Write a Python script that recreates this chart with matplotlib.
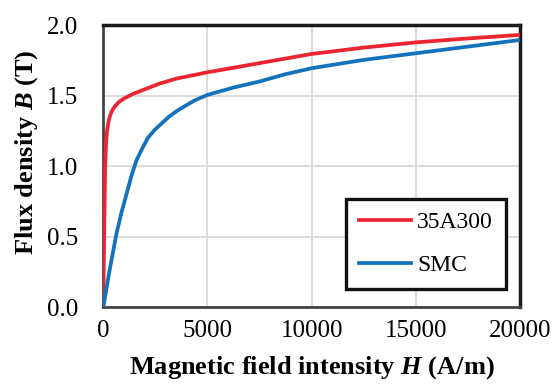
import matplotlib
matplotlib.use('Agg')
import matplotlib.pyplot as plt

plt.rcParams['font.family'] = 'Liberation Serif'
plt.rcParams['mathtext.fontset'] = 'custom'
plt.rcParams['mathtext.it'] = 'Liberation Serif:italic:bold'
plt.rcParams['mathtext.rm'] = 'Liberation Serif:bold'

# B-H curves
h_35a300 = [0, 40, 90, 130, 180, 250, 330, 430, 560, 750, 1000, 1400, 2000,
            2700, 3500, 5000, 7500, 10000, 12500, 15000, 17500, 20000]
b_35a300 = [0.0, 0.5, 1.0, 1.15, 1.25, 1.315, 1.36, 1.395, 1.425, 1.455,
            1.48, 1.51, 1.545, 1.585, 1.62, 1.665, 1.73, 1.795, 1.84, 1.877,
            1.905, 1.93]

h_smc = [0, 300, 630, 870, 1110, 1350, 1590, 1850, 2140, 2450, 2780, 3150,
         3570, 4370, 5000, 6200, 7500, 8700, 10000, 12500, 15000, 17500, 20000]
b_smc = [0.0, 0.26, 0.52, 0.67, 0.8, 0.93, 1.04, 1.12, 1.2, 1.255, 1.3,
         1.35, 1.395, 1.465, 1.505, 1.555, 1.60, 1.65, 1.694, 1.753, 1.80,
         1.847, 1.894]

x_ticks = [0, 5000, 10000, 15000, 20000]
y_ticks = [0.0, 0.5, 1.0, 1.5, 2.0]

fig = plt.figure(figsize=(5.52, 3.85), dpi=100)
ax = fig.add_axes([0.1871, 0.2018, 0.7549, 0.7332])

ax.plot(h_35a300, b_35a300, color='#EC2530', lw=2.7, label='35A300', zorder=3)
ax.plot(h_smc, b_smc, color='#1372BE', lw=2.7, label='SMC', zorder=3)

ax.set_xlim(0, 20000)
ax.set_ylim(0, 2.0)
ax.set_xticks(x_ticks)
ax.set_yticks(y_ticks)
ax.set_yticklabels(['%.1f' % v for v in y_ticks])
ax.tick_params(axis='both', length=0, labelsize=18)
ax.tick_params(axis='x', pad=9)
ax.tick_params(axis='y', pad=18)
ax.grid(True, color='#D9D9D9', lw=1.3)
ax.set_axisbelow(True)

for side in ['top', 'right']:
    ax.spines[side].set_color('#1a1a1a')
    ax.spines[side].set_linewidth(2.5)
for side in ['left', 'bottom']:
    ax.spines[side].set_color('#444444')
    ax.spines[side].set_linewidth(2.0)

ax.set_xlabel('Magnetic field intensity $H$ (A/m)', fontsize=19,
              fontweight='bold', labelpad=9)
ax.set_ylabel('Flux density $B$ (T)', fontsize=19, fontweight='bold',
              labelpad=5, y=0.55)

leg = ax.legend(loc='lower right', fontsize=17, fancybox=False,
                framealpha=1, edgecolor='#111111', handlelength=2.2,
                borderpad=0.55, labelspacing=0.9, handletextpad=0.25,
                borderaxespad=0, bbox_to_anchor=(0.966, 0.065))
leg.get_frame().set_linewidth(2.4)

fig.savefig('out.png', dpi=100)
